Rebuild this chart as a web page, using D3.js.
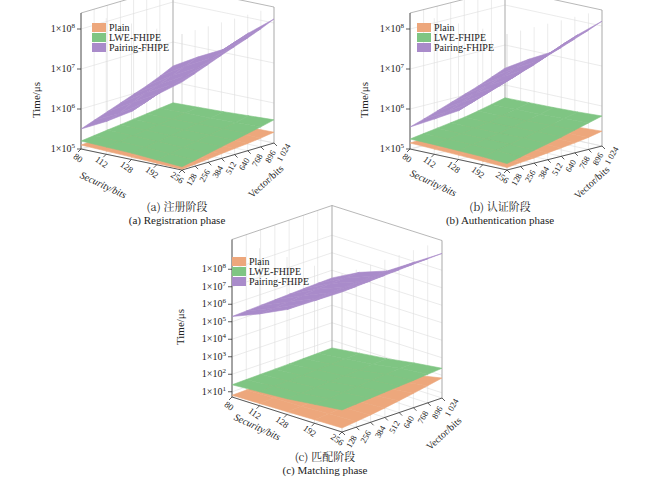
<!DOCTYPE html>
<html><head><meta charset="utf-8">
<script src="https://cdn.jsdelivr.net/npm/d3@7"></script>
<style>body{margin:0;background:#fff}</style>
</head><body><svg width="650" height="484" font-family="Liberation Serif, DejaVu Serif, serif"></svg>
<script>
var security = ["80","112","128","192","256"];
var vector = ["128","256","384","512","640","768","896","1 024"];
var seriesNames = ["Plain","LWE-FHIPE","Pairing-FHIPE"];
var seriesColors = ["#eda77c","#7fc583","#a98bca"];

// log10(time/us), rows = security, cols = vector
var regPlain = [
  [5.10,5.12,5.15,5.17,5.20,5.22,5.25,5.28],
  [5.08,5.10,5.13,5.16,5.18,5.21,5.24,5.27],
  [5.06,5.09,5.12,5.14,5.17,5.20,5.23,5.26],
  [5.04,5.07,5.10,5.13,5.16,5.19,5.22,5.26],
  [5.02,5.05,5.08,5.12,5.15,5.18,5.22,5.27]];
var regLwe = [
  [5.20,5.24,5.28,5.32,5.36,5.40,5.44,5.48],
  [5.18,5.22,5.27,5.31,5.36,5.40,5.45,5.50],
  [5.16,5.21,5.26,5.31,5.36,5.41,5.46,5.52],
  [5.12,5.18,5.24,5.30,5.36,5.42,5.48,5.55],
  [5.08,5.15,5.22,5.29,5.36,5.43,5.50,5.58]];
var regPair = [
  [5.50,5.62,5.74,5.86,5.98,6.10,6.24,6.40],
  [5.82,5.92,6.10,6.24,6.36,6.48,6.62,6.76],
  [6.20,6.32,6.45,6.58,6.70,6.82,6.95,7.08],
  [6.75,6.88,7.00,7.12,7.25,7.38,7.50,7.62],
  [7.20,7.32,7.45,7.58,7.70,7.82,7.95,8.10]];
var authPlain = [
  [5.15,5.17,5.20,5.22,5.25,5.27,5.30,5.32],
  [5.13,5.15,5.18,5.21,5.24,5.26,5.29,5.32],
  [5.11,5.14,5.17,5.20,5.23,5.26,5.29,5.33],
  [5.09,5.12,5.15,5.18,5.22,5.25,5.29,5.34],
  [5.06,5.10,5.13,5.17,5.21,5.25,5.30,5.37]];
var authLwe = [
  [5.25,5.30,5.35,5.40,5.45,5.52,5.60,5.68],
  [5.24,5.29,5.34,5.40,5.46,5.53,5.61,5.69],
  [5.22,5.28,5.34,5.40,5.47,5.54,5.62,5.70],
  [5.20,5.27,5.34,5.41,5.48,5.56,5.64,5.72],
  [5.16,5.24,5.32,5.40,5.48,5.57,5.66,5.75]];
var authPair = [
  [5.55,5.66,5.78,5.90,6.02,6.14,6.28,6.42],
  [5.88,5.98,6.12,6.26,6.38,6.50,6.64,6.78],
  [6.22,6.34,6.46,6.58,6.70,6.84,6.96,7.10],
  [6.76,6.88,7.00,7.13,7.26,7.38,7.52,7.65],
  [7.22,7.34,7.46,7.60,7.72,7.85,7.98,8.12]];
var matPlain = [
  [0.80,0.82,0.85,0.88,0.92,0.95,0.98,1.00],
  [0.83,0.86,0.90,0.95,1.00,1.04,1.08,1.12],
  [0.86,0.90,0.95,1.02,1.08,1.14,1.20,1.26],
  [0.90,0.96,1.04,1.12,1.22,1.32,1.42,1.52],
  [0.93,1.02,1.12,1.24,1.38,1.52,1.68,1.84]];
var matLwe = [
  [1.40,1.42,1.44,1.46,1.48,1.51,1.53,1.56],
  [1.50,1.53,1.56,1.60,1.64,1.68,1.72,1.76],
  [1.60,1.64,1.69,1.74,1.79,1.84,1.90,1.95],
  [1.78,1.84,1.90,1.97,2.04,2.11,2.18,2.20],
  [1.96,2.02,2.08,2.14,2.20,2.26,2.33,2.40]];
var matPair = [
  [5.30,5.34,5.38,5.42,5.46,5.50,5.53,5.56],
  [5.95,6.00,6.08,6.16,6.24,6.30,6.34,6.38],
  [6.70,6.74,6.78,6.82,6.86,6.90,6.93,6.96],
  [7.70,7.74,7.78,7.82,7.86,7.90,7.93,7.96],
  [8.70,8.74,8.78,8.82,8.86,8.90,8.93,8.96]];

var svg = d3.select("svg");

function supTick(sel, e){
  sel.append("tspan").text("1×10");
  sel.append("tspan").attr("dy",-4).attr("font-size",7).text(e);
}

function panel(cfg, data, cap1, cap2){
  var g = svg.append("g").attr("fill","#222");
  var sx = d3.scalePoint().domain(security).range([0,1]);
  var vx = d3.scalePoint().domain(vector).range([0,1]);
  var zs = d3.scaleLog().domain([Math.pow(10,cfg.z0), Math.pow(10,cfg.z1)]).range([0, -(cfg.z1-cfg.z0)*cfg.k]);
  var L = cfg.L, F = cfg.F, R = cfg.R, B = [L[0]+R[0]-F[0], L[1]+R[1]-F[1]];
  function P(s, v, val){
    var x = L[0] + s*(F[0]-L[0]) + v*(R[0]-F[0]);
    var y = L[1] + s*(F[1]-L[1]) + v*(R[1]-F[1]);
    return [x, y + (val==null ? 0 : zs(val))];
  }
  var top = -(cfg.z1-cfg.z0)*cfg.k;
  var grid = g.append("g").attr("stroke","#ddd").attr("stroke-width",0.6).attr("fill","none");
  var line = d3.line();
  cfg.ticks.forEach(function(e){
    var y = zs(Math.pow(10,e));
    grid.append("path").attr("d", line([[L[0],L[1]+y],[B[0],B[1]+y],[R[0],R[1]+y]]));
  });
  security.forEach(function(s){
    var a = P(sx(s),0), b = P(sx(s),1);
    grid.append("path").attr("d", line([a,b]));
    grid.append("path").attr("d", line([a,[a[0],a[1]+top]]));
  });
  vector.forEach(function(v){
    var a = P(0,vx(v)), b = P(1,vx(v));
    grid.append("path").attr("d", line([a,b]));
    grid.append("path").attr("d", line([b,[b[0],b[1]+top]]));
    grid.append("path").attr("d", line([a,[a[0],a[1]+top]]));
  });
  var box = g.append("g").attr("stroke","#999").attr("stroke-width",0.7).attr("fill","none");
  box.append("path").attr("d", line([[L[0],L[1]+top],[B[0],B[1]+top],[R[0],R[1]+top]]));
  box.append("path").attr("d", line([[B[0],B[1]],[B[0],B[1]+top]]));
  box.append("path").attr("d", line([[R[0],R[1]],[R[0],R[1]+top]]));
  var ax = g.append("g").attr("stroke","#333").attr("stroke-width",0.8).attr("fill","none");
  ax.append("path").attr("d", line([[L[0],L[1]],[L[0],L[1]+top]]));
  ax.append("path").attr("d", line([L,F,R]));

  data.forEach(function(tab, si){
    var quads = [];
    for (var i=0;i<security.length-1;i++) for (var j=0;j<vector.length-1;j++){
      var pts = [[i,j],[i+1,j],[i+1,j+1],[i,j+1]].map(function(c){
        return P(sx(security[c[0]]), vx(vector[c[1]]), Math.pow(10, tab[c[0]][c[1]]));
      });
      quads.push({pts:pts, d:i + (vector.length-2-j)});
    }
    quads.sort(function(a,b){return a.d-b.d;});
    g.append("g").selectAll("path").data(quads).join("path")
      .attr("d", function(q){return line(q.pts)+"Z";})
      .attr("fill", seriesColors[si]).attr("stroke", seriesColors[si]).attr("stroke-width",0.6);
  });

  cfg.ticks.forEach(function(e){
    var y = L[1]+zs(Math.pow(10,e));
    ax.append("path").attr("d", line([[L[0]-4,y],[L[0],y]]));
    supTick(g.append("text").attr("x",L[0]-6).attr("y",y+3).attr("text-anchor","end").attr("font-size",10), e);
  });
  security.forEach(function(s){
    var p = P(sx(s),0);
    ax.append("path").attr("d", line([p,[p[0]-3,p[1]+3]]));
    g.append("text").attr("transform","translate("+(p[0]-1)+","+(p[1]+14)+") rotate(35)")
      .attr("text-anchor","end").attr("font-size",9).text(s);
  });
  vector.forEach(function(v){
    var p = P(1,vx(v));
    ax.append("path").attr("d", line([p,[p[0]+3,p[1]+3]]));
    g.append("text").attr("transform","translate("+(p[0]+12)+","+(p[1]+11)+") rotate(-60)")
      .attr("text-anchor","middle").attr("font-size",8.5).text(v);
  });
  g.append("text").attr("transform","translate("+cfg.st[0]+","+cfg.st[1]+") rotate(25)")
    .attr("text-anchor","middle").attr("font-size",10).attr("font-style","italic").text("Security/bits");
  g.append("text").attr("transform","translate("+cfg.vt[0]+","+cfg.vt[1]+") rotate(-42)")
    .attr("text-anchor","middle").attr("font-size",10).text("Vector/bits");
  g.append("text").attr("transform","translate("+cfg.tt[0]+","+cfg.tt[1]+") rotate(-90)")
    .attr("text-anchor","middle").attr("font-size",11).text("Time/μs");
  seriesNames.forEach(function(n,i){
    g.append("rect").attr("x",cfg.lg[0]).attr("y",cfg.lg[1]+i*10).attr("width",14).attr("height",9).attr("fill",seriesColors[i]);
    g.append("text").attr("x",cfg.lg[0]+17).attr("y",cfg.lg[1]+i*10+8).attr("font-size",10).text(n);
  });
  g.append("text").attr("x",cfg.cx).attr("y",cfg.cy).attr("text-anchor","middle").attr("font-size",11)
    .attr("font-family","Noto Serif CJK SC, Noto Sans CJK SC, serif").text(cap1);
  g.append("text").attr("x",cfg.cx).attr("y",cfg.cy+13).attr("text-anchor","middle").attr("font-size",11).text(cap2);
}

panel({L:[81,149],F:[182,170],R:[274,143],z0:5,z1:8.4,k:40,ticks:[5,6,7,8],
  st:[102,188],vt:[268,184],tt:[40,100],lg:[92,23],cx:177,cy:211},
  [regPlain,regLwe,regPair],"(a) 注册阶段","(a) Registration phase");
panel({L:[410,149],F:[507,170],R:[602,146],z0:5,z1:8.4,k:40,ticks:[5,6,7,8],
  st:[432,186],vt:[594,185],tt:[368,100],lg:[417,23],cx:500,cy:211},
  [authPlain,authLwe,authPair],"(b) 认证阶段","(b) Authentication phase");
panel({L:[232,397],F:[342,432],R:[442,398],z0:0.7,z1:9.7,k:17.5,ticks:[1,2,3,4,5,6,7,8],
  st:[256,430],vt:[446,436],tt:[184,327],lg:[232,257],cx:325,cy:461},
  [matPlain,matLwe,matPair],"(c) 匹配阶段","(c) Matching phase");
</script></body></html>
